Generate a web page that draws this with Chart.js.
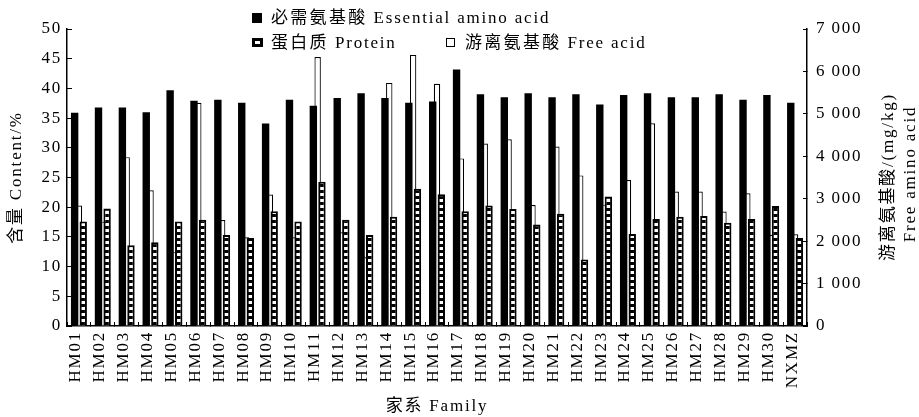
<!DOCTYPE html>
<html>
<head>
<meta charset="utf-8">
<title>Amino acid content by family</title>
<script src="https://cdn.jsdelivr.net/npm/chart.js@4.4.1/dist/chart.umd.min.js"></script>
<style>
  body { margin: 0; background: #fff; }
  #wrap { position: relative; width: 919px; height: 417px; overflow: hidden;
          font-family: "Liberation Serif", "Noto Sans CJK SC", serif; color: #000; }
  #wrap canvas { position: absolute; left: 0; top: 0; }
  .txt { position: absolute; white-space: nowrap; font-size: 17px; letter-spacing: 1.8px; line-height: 18px; }
  .txt b { font-weight: normal; letter-spacing: 2.3px; }
  .key { position: absolute; box-sizing: border-box; }
  .rot { position: absolute; white-space: nowrap; font-size: 17px; letter-spacing: 1.8px;
         transform: translate(-50%, -50%) rotate(-90deg); line-height: 20px; }
</style>
</head>
<body>
<div id="wrap">
  <canvas id="myChart" width="919" height="417"></canvas>

  <div class="key" style="left:252px;top:13px;width:10px;height:10px;background:#000;"></div>
  <div class="txt" style="left:271px;top:9px;"><b>必需氨基酸</b> Essential amino acid</div>

  <div class="key" style="left:252px;top:38px;width:11px;height:9px;background:#000;"></div>
  <div class="key" style="left:255px;top:41px;width:5px;height:3px;background:#fff;"></div>
  <div class="txt" style="left:271px;top:34px;"><b>蛋白质</b> Protein</div>

  <div class="key" style="left:446px;top:38px;width:9px;height:9px;border:1.5px solid #000;background:#fff;"></div>
  <div class="txt" style="left:465px;top:34px;"><b>游离氨基酸</b> Free acid</div>

  <div class="rot" style="left:888px;top:177px;">游离氨基酸/(mg/kg)</div>
  <div class="rot" style="left:910px;top:174px;">Free amino acid</div>
</div>

<script>
// families on the x axis
var families = ["HM01","HM02","HM03","HM04","HM05","HM06","HM07","HM08","HM09","HM10",
                "HM11","HM12","HM13","HM14","HM15","HM16","HM17","HM18","HM19","HM20",
                "HM21","HM22","HM23","HM24","HM25","HM26","HM27","HM28","HM29","HM30","NXMZ"];

// essential amino acid, % (left axis)
var essential = [35.9, 36.8, 36.8, 36.0, 39.7, 37.9, 38.1, 37.6, 34.1, 38.1,
                 37.1, 38.4, 39.2, 38.4, 37.6, 37.8, 43.2, 39.0, 38.5, 39.2,
                 38.5, 39.0, 37.3, 38.9, 39.2, 38.5, 38.5, 39.0, 38.1, 38.9, 37.6];

// protein, % (left axis)
var protein = [17.6, 19.8, 13.6, 14.1, 17.6, 17.9, 15.3, 14.8, 19.3, 17.6,
               24.3, 17.9, 15.3, 18.4, 23.1, 22.2, 19.3, 20.3, 19.7, 17.1,
               18.9, 11.2, 21.8, 15.5, 18.0, 18.4, 18.5, 17.4, 18.0, 20.2, 14.8];

// free amino acid, mg/kg (right axis)
var freeAcid = [2840, 2460, 3980, 3200, 1740, 5260, 2500, 2090, 3100, 2090,
                6340, 2210, 1620, 5730, 6390, 5710, 3950, 4300, 4400, 2850,
                4230, 3550, 2860, 3440, 4780, 3170, 3170, 2700, 3130, 2150, 2160];

var leftMax = 50, leftStep = 5;
var rightMax = 7000, rightStep = 1000;

// ladder fill for the protein bars
function ladder() {
	var c = document.createElement('canvas');
	c.width = 4; c.height = 6;
	var g = c.getContext('2d');
	g.fillStyle = '#000';
	g.fillRect(0, 0, 4, 6);
	g.fillStyle = '#fff';
	g.fillRect(0, 1, 4, 3);
	return g.createPattern(c, 'repeat');
}

var spacing = {
	id: 'spacing',
	beforeLayout: function(chart) { chart.ctx.letterSpacing = '1.8px'; },
	beforeDraw: function(chart) { chart.ctx.letterSpacing = '1.8px'; }
};

Chart.defaults.font.family = '"Liberation Serif", "Noto Sans CJK SC", serif';
Chart.defaults.font.size = 17;
Chart.defaults.color = '#000';

var ctx = document.getElementById("myChart").getContext('2d');
var myChart = new Chart(ctx, {
	type: 'bar',
	data: {
		labels: families,
		datasets: [{
			label: '必需氨基酸 Essential amino acid',
			data: essential,
			backgroundColor: '#000',
			borderWidth: 0,
			yAxisID: 'y',
			categoryPercentage: 0.72,
			barPercentage: 0.86,
			order: 0
		}, {
			label: '蛋白质 Protein',
			data: protein,
			backgroundColor: ladder(),
			borderColor: '#000',
			borderWidth: {left: 2, right: 2, top: 2, bottom: 0},
			yAxisID: 'y',
			categoryPercentage: 0.72,
			barPercentage: 0.86,
			order: 1
		}, {
			// centred on the category, behind the other two
			label: '游离氨基酸 Free acid',
			data: freeAcid,
			backgroundColor: '#fff',
			borderColor: '#000',
			borderWidth: {left: 1.2, right: 1.2, top: 1.2, bottom: 0},
			yAxisID: 'y2',
			grouped: false,
			barPercentage: 0.335,
			order: 2
		}]
	},
	options: {
		responsive: false,
		animation: false,
		layout: { padding: { top: 29, left: 0, right: 0, bottom: 0 } },
		plugins: { legend: { display: false }, tooltip: { enabled: false } },
		scales: {
			x: {
				type: 'category',
				offset: true,
				grid: { offset: true, drawOnChartArea: false, color: '#000', tickLength: -4, lineWidth: 1 },
				border: { color: '#000', width: 1.5 },
				ticks: { autoSkip: false, minRotation: 90, maxRotation: 90, padding: 9, labelOffset: -3 },
				title: { display: true, text: '家系 Family', padding: { top: 0, bottom: 0 } },
				afterFit: function(s) { s.height = 91; }
			},
			y: {
				position: 'left',
				min: 0, max: leftMax,
				grid: { drawOnChartArea: false, color: '#000', tickLength: -5 },
				border: { color: '#000', width: 1.5 },
				ticks: { stepSize: leftStep, padding: 10 },
				title: { display: true, text: '含量 Content/%', padding: { top: 6, bottom: 0 } },
				afterFit: function(s) { s.width = 67; }
			},
			y2: {
				position: 'right',
				min: 0, max: rightMax,
				grid: { drawOnChartArea: false, color: '#000', tickLength: -4 },
				border: { color: '#000', width: 1.5 },
				ticks: {
					stepSize: rightStep, padding: 13,
					callback: function(v) { return v >= 1000 ? Math.floor(v / 1000) + '\u2009' + String(v % 1000).padStart(3, '0') : String(v); }
				},
				afterFit: function(s) { s.width = 112; }
			}
		}
	},
	plugins: [spacing]
});
</script>
</body>
</html>
